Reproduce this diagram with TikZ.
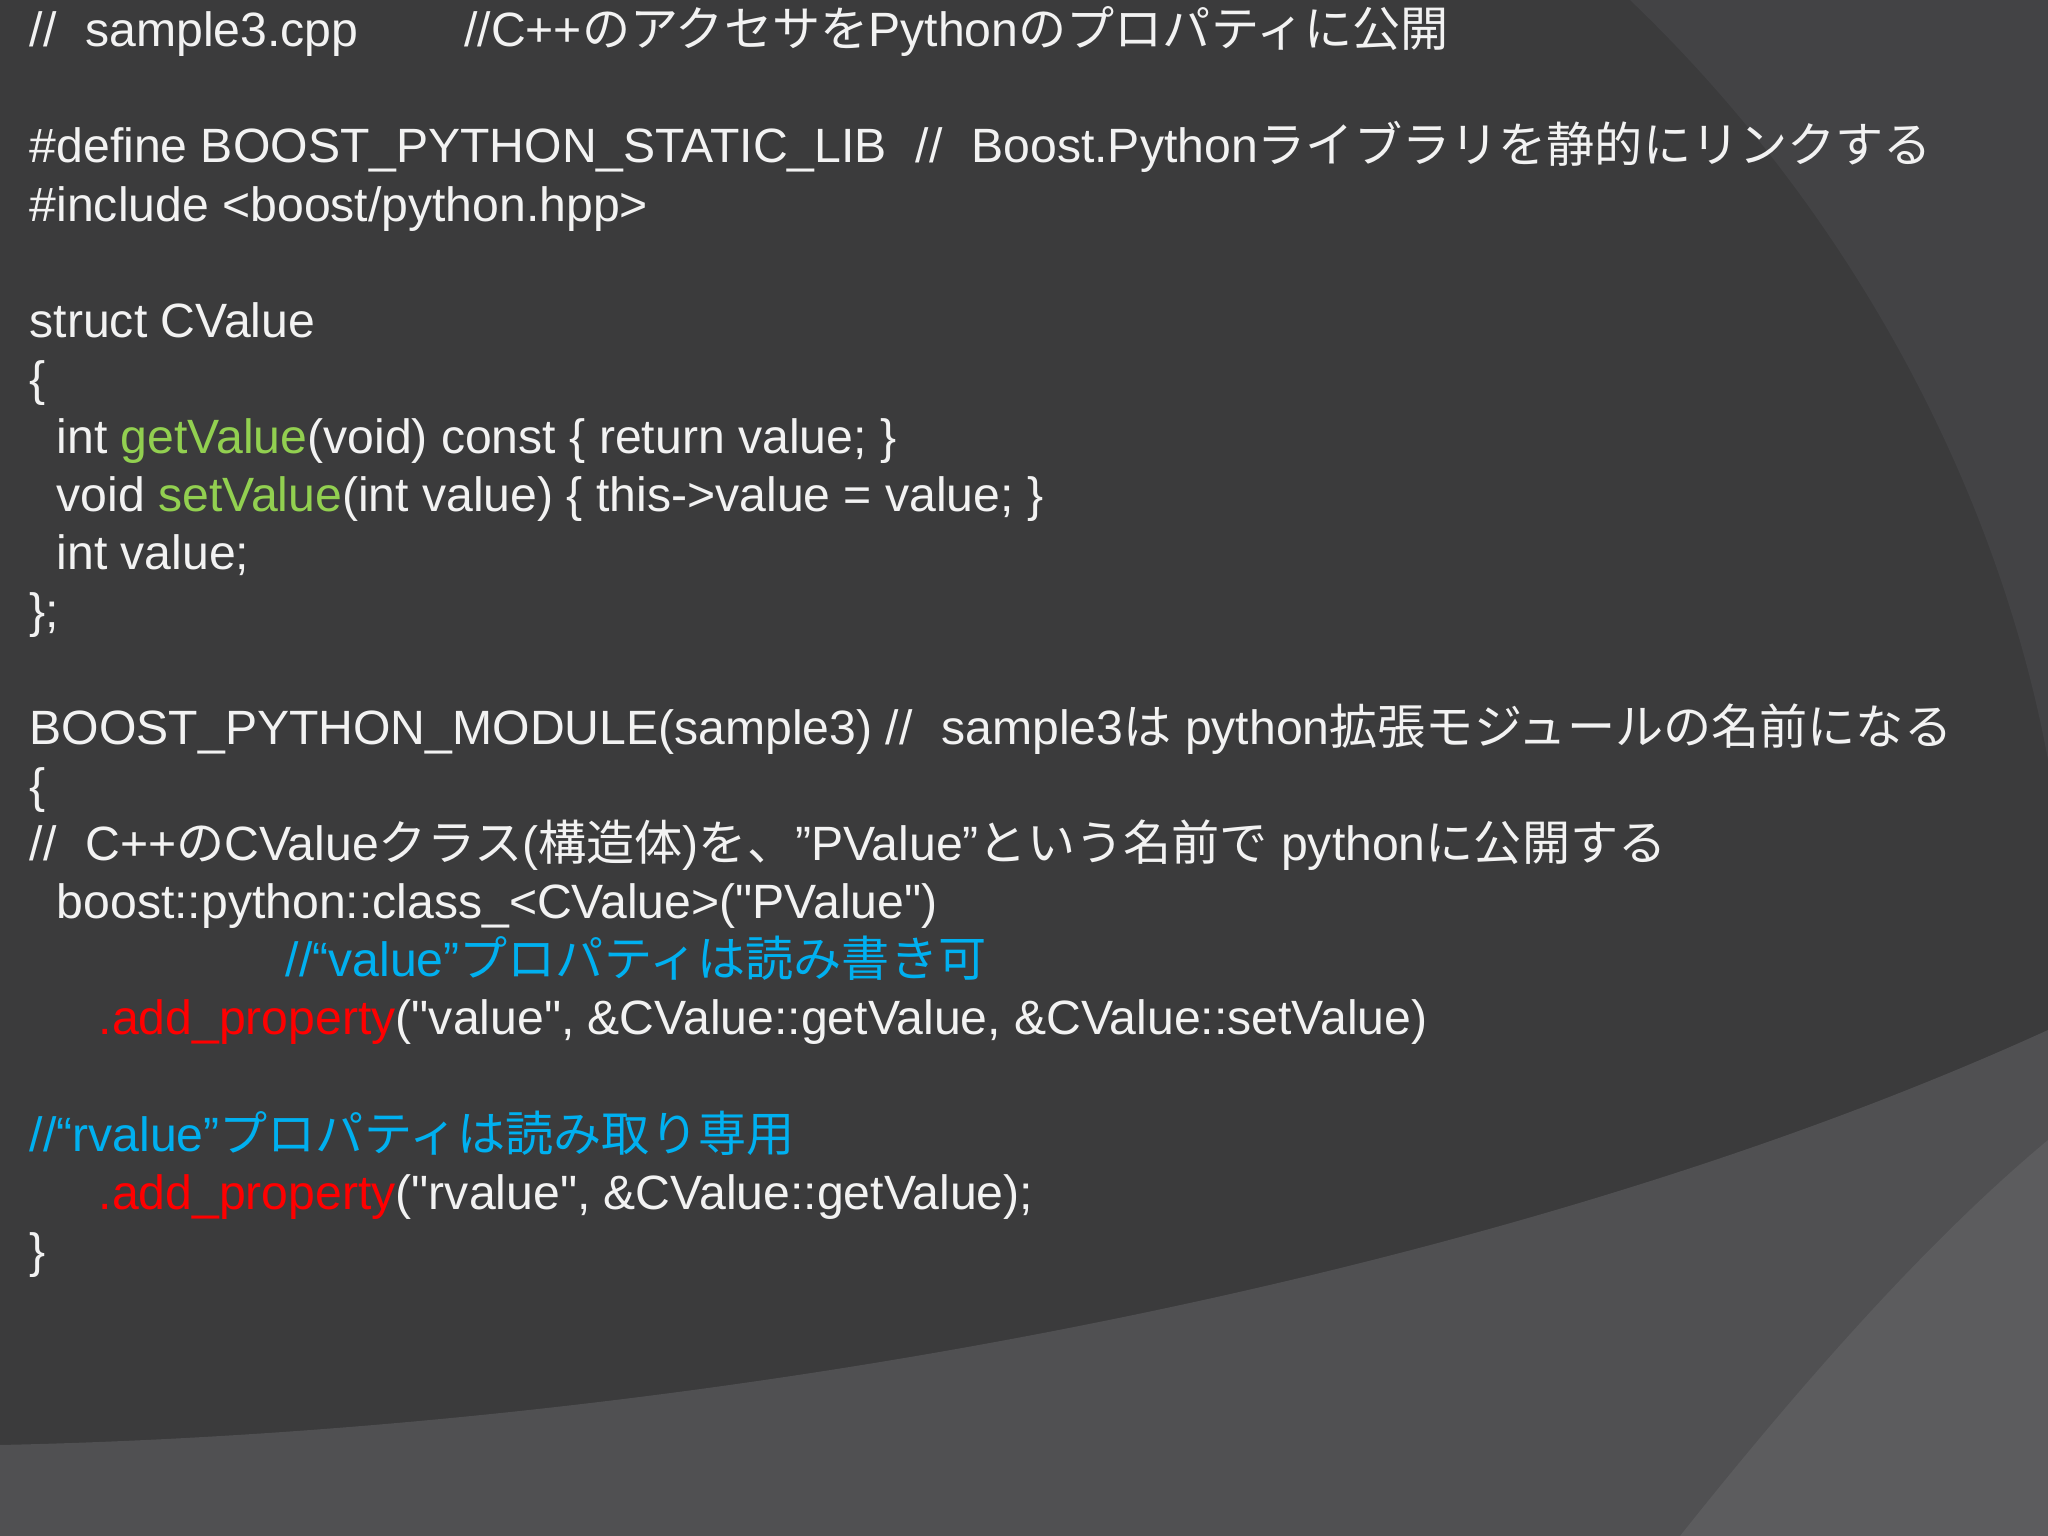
\documentclass[tikz,border=0pt]{standalone}
\usepackage{fontspec}
\setmainfont{Liberation Sans}
\newfontfamily\cjk{Noto Sans CJK JP}
\newcommand{\jp}[1]{{\cjk #1}}
\newcommand{\gr}[1]{\textcolor{grn}{#1}}
\newcommand{\rd}[1]{\textcolor{red}{#1}}
\newcommand{\q}{\textquotedbl}
\definecolor{bg}{HTML}{3B3B3C}
\definecolor{bgA}{HTML}{434345}
\definecolor{bgB}{HTML}{505052}
\definecolor{bgC}{HTML}{5C5C5E}
\definecolor{grn}{HTML}{92D050}
\definecolor{blu}{HTML}{00B0F0}
\definecolor{txt}{HTML}{F2F2F2}
\begin{document}
\begin{tikzpicture}[x=1cm,y=1cm,
  ln/.style={anchor=base west,inner sep=0pt,text=txt,font=\fontsize{13.7}{16}\selectfont}]
\useasboundingbox (0,0) rectangle (20.48,-15.36);
\fill[bg] (0,0) rectangle (20.48,-15.36);
\fill[bgA] (16.3,0) .. controls (18.6,-2.2) and (20.0,-5.0) .. (20.48,-7.6) -- (20.48,0) -- cycle;
\fill[bgB] (0,-14.45) .. controls (7,-14.3) and (15,-12.8) .. (20.48,-10.3) -- (20.48,-15.36) -- (0,-15.36) -- cycle;
\fill[bgC] (16.8,-15.36) .. controls (18.2,-13.6) and (19.4,-12.3) .. (20.48,-11.4) -- (20.48,-15.36) -- cycle;
\def\Y#1{-(22+44.5*#1)*0.01306-0.18}
\node[ln] (l0) at (0.29,{\Y{0}}) {//\hspace{0.6em}sample3.cpp\hspace{2.2em}//C++\jp{のアクセサを}Python\jp{のプロパティに公開}};
\node[ln] (l2) at (0.29,{\Y{2}}) {\#define BOOST\_PYTHON\_STATIC\_LIB\hspace{0.6em}//\hspace{0.6em}Boost.Python\jp{ライブラリを静的にリンクする}};
\node[ln] (l3) at (0.29,{\Y{3}}) {\#include <boost/python.hpp>};
\node[ln] (l5) at (0.29,{\Y{5}}) {struct CValue};
\node[ln] (l6) at (0.29,{\Y{6}}) {\{};
\node[ln] (l7) at (0.56,{\Y{7}}) {int \gr{getValue}(void) const \{ return value; \}};
\node[ln] (l8) at (0.56,{\Y{8}}) {void \gr{setValue}(int value) \{ this->value = value; \}};
\node[ln] (l9) at (0.56,{\Y{9}}) {int value;};
\node[ln] (l10) at (0.29,{\Y{10}}) {\};};
\node[ln] (l12) at (0.29,{\Y{12}}) {BOOST\_PYTHON\_MODULE(sample3) //\hspace{0.6em}sample3\jp{は} python\jp{拡張モジュールの名前になる}};
\node[ln] (l13) at (0.29,{\Y{13}}) {\{};
\node[ln] (l14) at (0.29,{\Y{14}}) {//\hspace{0.6em}C++\jp{の}CValue\jp{クラス}(\jp{構造体})\jp{を、}”PValue”\jp{という名前で} python\jp{に公開する}};
\node[ln] (l15) at (0.56,{\Y{15}}) {boost::python::class\_<CValue>(\q PValue\q)};
\node[ln,text=blu] (l16) at (2.85,{\Y{16}}) {//“value”\jp{プロパティは読み書き可}};
\node[ln] (l17) at (0.98,{\Y{17}}) {\rd{.add\_property}(\q value\q, \&CValue::getValue, \&CValue::setValue)};
\node[ln,text=blu] (l19) at (0.29,{\Y{19}}) {//“rvalue”\jp{プロパティは読み取り専用}};
\node[ln] (l20) at (0.98,{\Y{20}}) {\rd{.add\_property}(\q rvalue\q, \&CValue::getValue);};
\node[ln] (l21) at (0.29,{\Y{21}}) {\}};
\end{tikzpicture}
\end{document}
